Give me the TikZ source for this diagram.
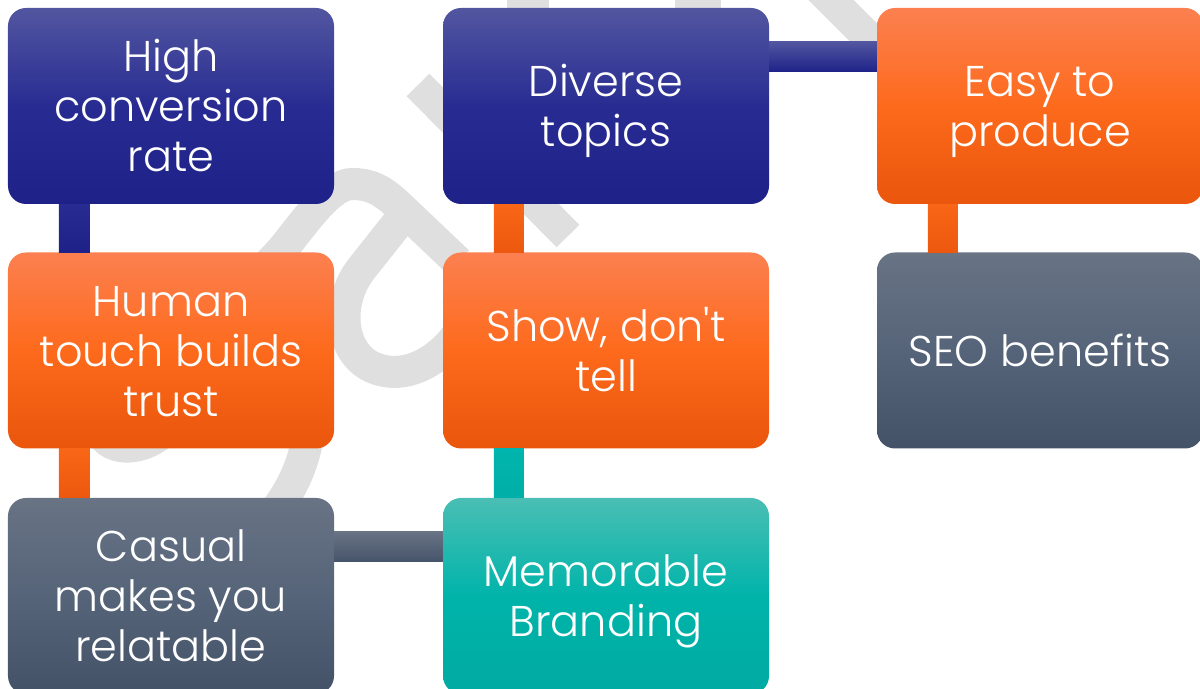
\documentclass[tikz,border=0pt]{standalone}
\usepackage{fontspec}
\setmainfont{Poppins}[UprightFont=* Light, Ligatures=TeXOff]
\newcommand\fst{\rule[-15bp]{0pt}{62bp}}
\newcommand\ost{\rule[-15bp]{0pt}{50bp}}
\definecolor{wmgray}{RGB}{223,223,223}
\definecolor{bluT}{RGB}{82,86,160}
\definecolor{bluM}{RGB}{40,44,146}
\definecolor{bluB}{RGB}{30,34,136}
\definecolor{orT}{RGB}{252,128,80}
\definecolor{orM}{RGB}{253,106,28}
\definecolor{orB}{RGB}{233,86,12}
\definecolor{slT}{RGB}{104,115,132}
\definecolor{slM}{RGB}{86,100,121}
\definecolor{slB}{RGB}{68,82,104}
\definecolor{teT}{RGB}{74,190,180}
\definecolor{teM}{RGB}{0,180,170}
\definecolor{teB}{RGB}{0,170,162}
\tikzset{
  box/.style={rectangle, rounded corners=18bp, minimum width=326bp, minimum height=196bp,
    inner sep=0pt, text=white, align=center, font=\fontsize{43bp}{50bp}\selectfont},
  bluebox/.style={box, top color=bluT, bottom color=bluB, middle color=bluM},
  orbox/.style={box, top color=orT, bottom color=orB, middle color=orM},
  slbox/.style={box, top color=slT, bottom color=slB, middle color=slM},
  tebox/.style={box, top color=teT, bottom color=teB, middle color=teM},
  wm/.style={draw=wmgray, line width=32bp, line cap=butt},
  hblue/.style={top color=bluT, bottom color=bluB},
  vblue/.style={top color=bluM, bottom color=bluB},
  vor/.style={top color={rgb,255:red,249;green,102;blue,22}, bottom color={rgb,255:red,236;green,88;blue,14}},
  vte/.style={top color={rgb,255:red,0;green,181;blue,173}, bottom color={rgb,255:red,0;green,175;blue,167}},
  hsl/.style={top color=slT, bottom color={rgb,255:red,70;green,84;blue,106}}
}
\begin{document}
\begin{tikzpicture}[x=1bp,y=1bp]
\useasboundingbox (0,0) rectangle (1200,689);
\clip (0,0) rectangle (1200,689);
% watermark
\draw[wm] (418,604) -- (568,453);
\draw[wm] (458,427) -- (398,484) .. controls (380,501) and (368,505) .. (352,505)
  .. controls (330,505) and (305,467) .. (282,439)
  .. controls (200,349) and (90,289) .. (100,259)
  .. controls (110,234) and (150,237) .. (175,269);
\draw[wm] (404,474) -- (362,421) .. controls (335,387) and (340,337) .. (372,322)
  .. controls (405,307) and (438,329) .. (455,351) -- (480,384);
\draw[wm] (312,309) .. controls (312,259) and (306,224) .. (283,189) -- (263,159);
\draw[wm] (810,710) -- (885,635);
\fill[wmgray] (507,681) rectangle (549,689);
\fill[wmgray] (675,681) rectangle (721,689);
% boxes
\node[bluebox] (hi) at (171,583) {\fst High\\\ost conversion\\\ost rate};
\node[orbox]   (hu) at (171,338.5) {\fst Human\\\ost touch builds\\\ost trust};
\node[slbox]   (ca) at (171,93) {\fst Casual\\\ost makes you\\\ost relatable};
\node[tebox]   (me) at (606,93) {\fst Memorable\\\ost Branding};
\node[orbox]   (sh) at (606,338.5) {\fst Show, don't\\\ost tell};
\node[bluebox] (di) at (606,583) {\fst Diverse\\\ost topics};
\node[orbox]   (ea) at (1040,583) {\fst Easy to\\\ost produce};
\node[slbox]   (se) at (1040,338.5) {\fst SEO benefits};
% connectors
\fill[vblue] ([xshift=51bp]hi.south west) rectangle ([xshift=82bp]hu.north west);
\fill[vor]   ([xshift=51bp]hu.south west) rectangle ([xshift=82bp]ca.north west);
\fill[hsl]   ([yshift=-34bp]ca.north east) rectangle ([yshift=-64bp]me.north west);
\fill[vte]   ([xshift=51bp]sh.south west) rectangle ([xshift=81bp]me.north west);
\fill[vor]   ([xshift=51bp]di.south west) rectangle ([xshift=81bp]sh.north west);
\fill[hblue] ([yshift=-34bp]di.north east) rectangle ([yshift=-64bp]ea.north west);
\fill[vor]   ([xshift=51bp]ea.south west) rectangle ([xshift=81bp]se.north west);
\end{tikzpicture}
\end{document}
